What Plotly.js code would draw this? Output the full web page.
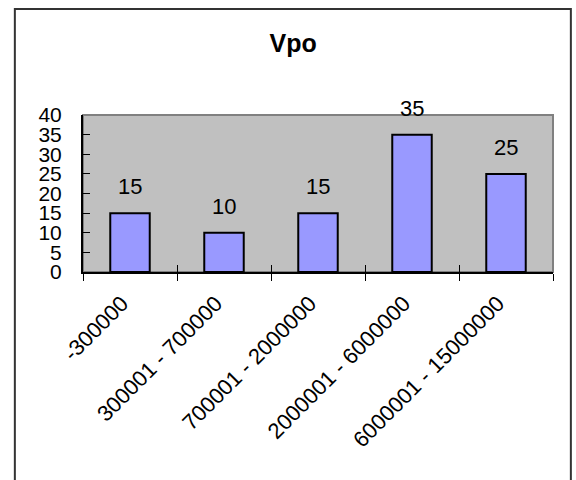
<!DOCTYPE html>
<html>
<head>
<meta charset="utf-8">
<script src="https://cdn.plot.ly/plotly-3.0.1.min.js"></script>
<style>html,body{margin:0;padding:0;background:#fff;}#chart{width:576px;height:480px;}</style>
</head>
<body>
<div id="chart"></div>
<script>
const categories = ["-300000", "300001 - 700000", "700001 - 2000000", "2000001 - 6000000", "6000001 - 15000000"];
const values = [15, 10, 15, 35, 25];
const yTicks = [0, 5, 10, 15, 20, 25, 30, 35, 40];
const chartTitle = "Vpo";

const font = "Liberation Sans, Arial, sans-serif";

const traces = [
  {
    type: "bar",
    x: categories,
    y: values,
    marker: {color: "#9999FF", line: {color: "#000000", width: 2}},
    hoverinfo: "skip",
    showlegend: false
  },
  {
    type: "scatter",
    mode: "none",
    x: categories,
    y: values,
    xaxis: "x2",
    hoverinfo: "skip",
    showlegend: false
  }
];

const annotations = categories.map((c, i) => ({
  x: i, y: values[i], xref: "x", yref: "y",
  text: String(values[i]), showarrow: false,
  yanchor: "bottom", yshift: 12,
  font: {family: font, size: 22, color: "#000"}
}));

const layout = {
  width: 576, height: 480,
  margin: {l: 83, r: 23, t: 115, b: 208, pad: 0},
  paper_bgcolor: "#ffffff",
  plot_bgcolor: "#C0C0C0",
  title: {text: "<b>" + chartTitle + "</b>", font: {family: font, size: 25, color: "#000"},
          x: 0.509, xanchor: "center", y: 0.91, yanchor: "middle"},
  bargap: 0.58,
  xaxis: {
    type: "category", categoryorder: "array", categoryarray: categories,
    range: [-0.5, 4.5],
    showline: true, linecolor: "#000", linewidth: 2,
    ticks: "outside", ticklen: 7, tickwidth: 1, tickcolor: "#000",
    tickson: "boundaries",
    tickangle: -45,
    ticklabelstandoff: 8,
    ticklabelshift: -8,
    tickfont: {family: font, size: 22, color: "#000"},
    showgrid: false, zeroline: false, fixedrange: true
  },
  xaxis2: {
    type: "category", categoryorder: "array", categoryarray: categories,
    overlaying: "x", anchor: "y", range: [-0.5, 4.5],
    ticks: "inside", ticklen: 7, tickwidth: 1, tickcolor: "#000",
    tickson: "boundaries", showticklabels: false,
    showline: false, showgrid: false, zeroline: false, fixedrange: true
  },
  yaxis: {
    range: [0, 40], tickvals: yTicks, ticktext: yTicks.map(String),
    showline: true, linecolor: "#000", linewidth: 2,
    ticks: "inside", ticklen: 7, tickwidth: 1, tickcolor: "#000",
    ticklabelstandoff: 15,
    tickfont: {family: font, size: 21, color: "#000"},
    showgrid: false, zeroline: false, fixedrange: true
  },
  shapes: [
    {type: "rect", xref: "paper", yref: "paper", x0: 0, x1: 1, y0: 0, y1: 1,
     line: {color: "#808080", width: 2}, layer: "below"},
    {type: "rect", xref: "paper", yref: "paper", x0: -0.145, x1: 1.038, y0: -1.36, y1: 1.675,
     line: {color: "#333333", width: 2}, layer: "above"}
  ],
  annotations: annotations
};

Plotly.newPlot("chart", traces, layout, {displayModeBar: false, staticPlot: true});
</script>
</body>
</html>
